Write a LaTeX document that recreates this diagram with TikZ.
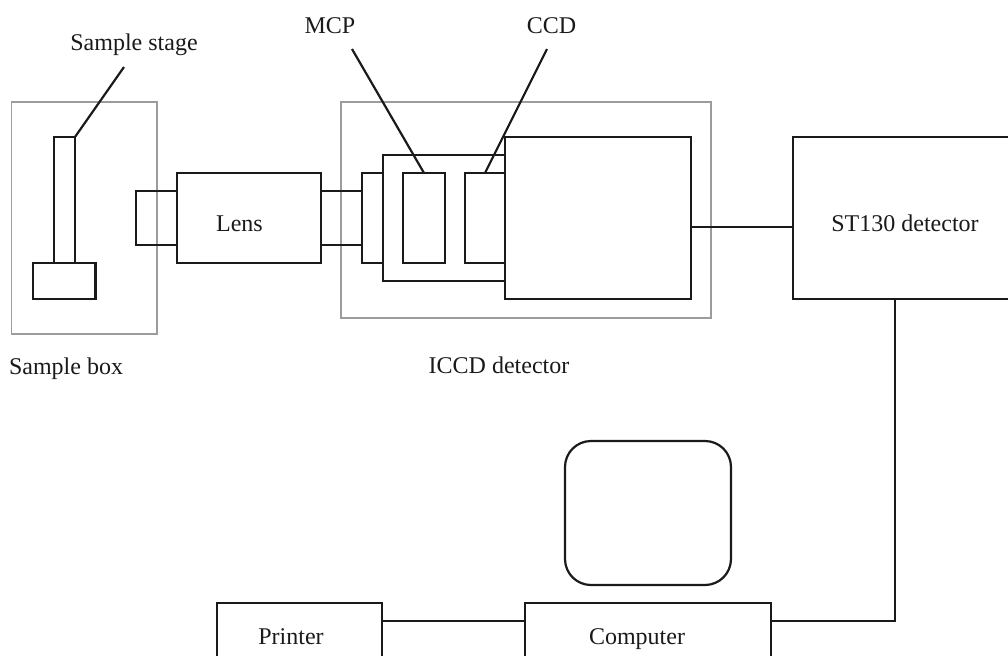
\documentclass[tikz,border=0pt]{standalone}
\usepackage{fontspec}
\setmainfont{Liberation Serif}
\usepackage{xcolor}
\usetikzlibrary{positioning}
\definecolor{framec}{HTML}{9C9C9C}
\definecolor{partc}{HTML}{1A1A1A}
\tikzset{
  framebox/.style={draw=framec, line width=0.8pt, inner sep=0pt, outer sep=0pt, anchor=north west},
  partbox/.style={draw=partc, line width=1.1pt, inner sep=0pt, outer sep=0pt, anchor=north west},
  lbl/.style={inner sep=0pt, anchor=base, text=partc, font=\fontsize{12}{14}\selectfont},
  wire/.style={draw=partc, line width=1.1pt}
}

\begin{document}
\begin{tikzpicture}[x=0.5pt,y=-0.5pt]
  \useasboundingbox (0,0) rectangle (1008,655);
  \clip (0,0) rectangle (1008,655);
  % grey frames
  \node[framebox, minimum width=72.75pt, minimum height=116pt] (samplebox) at (11.5,102){};
  \node[framebox, minimum width=185pt, minimum height=108pt] (iccdbox) at (341,102){};
  % sample side
  \node[partbox, minimum width=10.5pt, minimum height=63pt] (stage) at (54,137){};
  \node[partbox, minimum width=31.25pt, minimum height=18pt] (base) at (33,263){};
  \node[partbox, minimum width=20.5pt, minimum height=27pt] (tubea) at (136,191){};
  \node[partbox, minimum width=72pt, minimum height=45pt] (lens) at (177,173){};
  \node[partbox, minimum width=20.5pt, minimum height=27pt] (tubeb) at (321,191){};
  % detector side
  \node[partbox, minimum width=10.5pt, minimum height=45pt] (ring) at (362,173){};
  \node[partbox, minimum width=61pt, minimum height=63pt] (housing) at (383,155){};
  \node[partbox, minimum width=21pt, minimum height=45pt] (mcp) at (403,173){};
  \node[partbox, minimum width=20pt, minimum height=45pt] (ccd) at (465,173){};
  \node[partbox, minimum width=93pt, minimum height=81pt] (body) at (505,137){};
  \node[partbox, minimum width=112pt, minimum height=81pt] (st) at (793,137){};
  % computer side
  \node[partbox, rounded corners=13pt, minimum width=83pt, minimum height=72pt] (monitor) at (565,441){};
  \node[partbox, minimum width=82.5pt, minimum height=37pt] (printer) at (217,603){};
  \node[partbox, minimum width=123pt, minimum height=37pt] (computer) at (525,603){};
  % texts
  \node[lbl] (stagetxt) at (134,50.5){Sample stage};
  \node[lbl] (mcptxt) at (330,33){MCP};
  \node[lbl] (ccdtxt) at (551.5,33){CCD};
  \node[lbl] (lenstxt) at (239.5,231){Lens};
  \node[lbl] (sttxt) at (905,231){ST130 detector};
  \node[lbl] (boxtxt) at (66,374){Sample box};
  \node[lbl] (iccdtxt) at (499,373){ICCD detector};
  \node[lbl] (printertxt) at (291,644){Printer};
  \node[lbl] (computertxt) at (637,644){Computer};
  % leader lines
  \coordinate (stagetop) at (124,67);
  \coordinate (mcptop) at (352,49);
  \coordinate (ccdtop) at (547,49);
  \draw[wire] (stagetop) -- (stage.north east);
  \draw[wire] (mcptop) -- (mcp.north);
  \draw[wire] (ccdtop) -- (ccd.north);
  % connections
  \draw[wire] ([yshift=-4.5pt]body.east) -- ([yshift=-4.5pt]st.west);
  \draw[wire] ([xshift=-5pt]st.south) |- ([yshift=9.5pt]computer.east);
  \draw[wire] ([yshift=9.5pt]printer.east) -- ([yshift=9.5pt]computer.west);
\end{tikzpicture}
\end{document}
